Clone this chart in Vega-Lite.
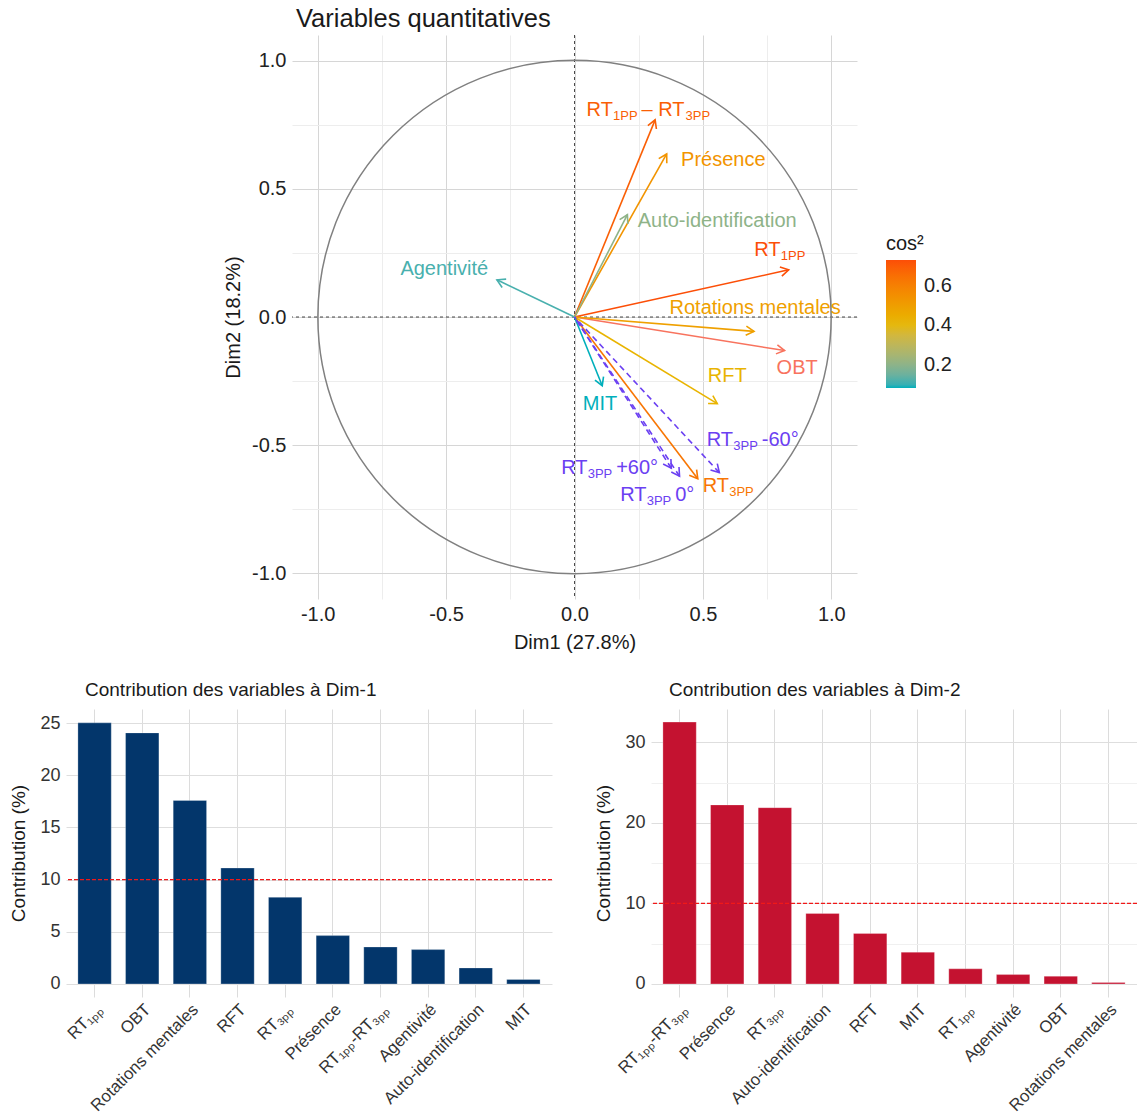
{
  "$schema": "https://vega.github.io/schema/vega-lite/v6.json",
  "padding": {"left": 9, "top": 7, "right": 0, "bottom": 0},
  "config": {
    "font": "Liberation Sans",
    "view": {"stroke": null},
    "axis": {"domain": false, "ticks": false, "labelColor": "#222222", "titleColor": "#1a1a1a", "titleFontWeight": "normal", "labelOverlap": false, "labelFlush": false},
    "title": {"fontWeight": "normal", "color": "#1a1a1a"}
  },
  "datasets": {
    "origin": [{"x": 0, "y": 0}],
    "vars": [
      {"name": "RT1PP", "x": 0.834, "y": 0.184, "cos2": 0.730, "p1": "RT", "s1": "1PP", "p2": null, "s2": null, "lx": 0.700, "ly": 0.239},
      {"name": "OBT", "x": 0.818, "y": -0.131, "cos2": 0.686, "p1": "OBT", "s1": null, "p2": null, "s2": null, "lx": 0.787, "ly": -0.223},
      {"name": "Rotations mentales", "x": 0.699, "y": -0.056, "cos2": 0.492, "p1": "Rotations mentales", "s1": null, "p2": null, "s2": null, "lx": 0.370, "ly": 0.012},
      {"name": "RFT", "x": 0.556, "y": -0.338, "cos2": 0.423, "p1": "RFT", "s1": null, "p2": null, "s2": null, "lx": 0.519, "ly": -0.253},
      {"name": "RT3PP", "x": 0.480, "y": -0.631, "cos2": 0.630, "p1": "RT", "s1": "3PP", "p2": null, "s2": null, "lx": 0.499, "ly": -0.682},
      {"name": "Présence", "x": 0.359, "y": 0.636, "cos2": 0.534, "p1": "Présence", "s1": null, "p2": null, "s2": null, "lx": 0.415, "ly": 0.588},
      {"name": "RT1PP-RT3PP", "x": 0.314, "y": 0.769, "cos2": 0.690, "p1": "RT", "s1": "1PP", "p2": "– RT", "s2": "3PP", "lx": 0.047, "ly": 0.785},
      {"name": "Agentivité", "x": -0.302, "y": 0.145, "cos2": 0.113, "p1": "Agentivité", "s1": null, "p2": null, "s2": null, "lx": -0.678, "ly": 0.165},
      {"name": "Auto-identification", "x": 0.206, "y": 0.399, "cos2": 0.202, "p1": "Auto-identification", "s1": null, "p2": null, "s2": null, "lx": 0.246, "ly": 0.353},
      {"name": "MIT", "x": 0.108, "y": -0.268, "cos2": 0.083, "p1": "MIT", "s1": null, "p2": null, "s2": null, "lx": 0.032, "ly": -0.362}
    ],
    "supp": [
      {"name": "RT3PP -60°", "x": 0.564, "y": -0.607, "p1": "RT", "s1": "3PP", "p2": "-60°", "lx": 0.515, "ly": -0.503},
      {"name": "RT3PP +60°", "x": 0.377, "y": -0.590, "p1": "RT", "s1": "3PP", "p2": "+60°", "lx": -0.052, "ly": -0.613},
      {"name": "RT3PP 0°", "x": 0.409, "y": -0.621, "p1": "RT", "s1": "3PP", "p2": "0°", "lx": 0.178, "ly": -0.718}
    ],
    "dim1": [
      {"var": "RT₁ₚₚ", "contrib": 25.03},
      {"var": "OBT", "contrib": 24.07},
      {"var": "Rotations mentales", "contrib": 17.59},
      {"var": "RFT", "contrib": 11.11},
      {"var": "RT₃ₚₚ", "contrib": 8.30},
      {"var": "Présence", "contrib": 4.63},
      {"var": "RT₁ₚₚ-RT₃ₚₚ", "contrib": 3.54},
      {"var": "Agentivité", "contrib": 3.29},
      {"var": "Auto-identification", "contrib": 1.53},
      {"var": "MIT", "contrib": 0.42}
    ],
    "dim2": [
      {"var": "RT₁ₚₚ-RT₃ₚₚ", "contrib": 32.53},
      {"var": "Présence", "contrib": 22.24},
      {"var": "RT₃ₚₚ", "contrib": 21.9},
      {"var": "Auto-identification", "contrib": 8.75},
      {"var": "RFT", "contrib": 6.27},
      {"var": "MIT", "contrib": 3.94},
      {"var": "RT₁ₚₚ", "contrib": 1.87},
      {"var": "Agentivité", "contrib": 1.16},
      {"var": "OBT", "contrib": 0.95},
      {"var": "Rotations mentales", "contrib": 0.17}
    ]
  },
  "spacing": 29,
  "vconcat": [
    {
      "spacing": 0,
      "hconcat": [
        {"width": 157, "height": 10, "data": {"name": "origin"}, "mark": {"type": "point", "opacity": 0}, "encoding": {"x": {"field": "x", "type": "quantitative", "axis": null}, "y": {"field": "y", "type": "quantitative", "axis": null}}},
        {
          "width": 565,
          "height": 564,
          "title": {"text": "Variables quantitatives", "anchor": "start", "frame": "group", "fontSize": 25.5, "dx": 4, "offset": 2},
          "layer": [
            {
              "data": {"name": "origin"},
              "mark": {"type": "rule", "strokeDash": [3, 3], "strokeWidth": 0.8, "color": "#1a1a1a"},
              "encoding": {
                "x": {"field": "x", "type": "quantitative",
                  "scale": {"domain": [-1.1, 1.1], "nice": false, "zero": false},
                  "axis": {"title": "Dim1 (27.8%)", "titleFontSize": 20, "labelFontSize": 20, "labelPadding": 5, "titlePadding": 8,
                    "values": [-1, -0.75, -0.5, -0.25, 0, 0.25, 0.5, 0.75, 1],
                    "labelExpr": "abs(datum.value*2 - round(datum.value*2)) < 0.001 ? replace(format(datum.value, '.1f'), '−', '-') : ''",
                    "grid": true,
                    "gridColor": {"condition": {"test": "abs(datum.value*2 - round(datum.value*2)) > 0.001", "value": "#ededed"}, "value": "#d6d6d6"}}}
              }
            },
            {
              "data": {"name": "origin"},
              "mark": {"type": "rule", "strokeDash": [3, 3], "strokeWidth": 0.8, "color": "#1a1a1a"},
              "encoding": {
                "y": {"field": "y", "type": "quantitative",
                  "scale": {"domain": [-1.1, 1.1], "nice": false, "zero": false},
                  "axis": {"title": "Dim2 (18.2%)", "titleFontSize": 20, "labelFontSize": 20, "labelPadding": 6, "titlePadding": 8,
                    "values": [-1, -0.75, -0.5, -0.25, 0, 0.25, 0.5, 0.75, 1],
                    "labelExpr": "abs(datum.value*2 - round(datum.value*2)) < 0.001 ? replace(format(datum.value, '.1f'), '−', '-') : ''",
                    "grid": true,
                    "gridColor": {"condition": {"test": "abs(datum.value*2 - round(datum.value*2)) > 0.001", "value": "#ededed"}, "value": "#d6d6d6"}}}
              }
            },
            {
              "data": {"name": "origin"},
              "mark": {"type": "point", "shape": "circle", "size": 263477, "filled": false, "stroke": "#808080", "strokeWidth": 1.5, "opacity": 1},
              "encoding": {"x": {"field": "x", "type": "quantitative"}, "y": {"field": "y", "type": "quantitative"}}
            },
            {
              "data": {"name": "vars"},
              "mark": {"type": "rule", "strokeWidth": 1.6},
              "encoding": {
                "x": {"field": "x", "type": "quantitative"},
                "y": {"field": "y", "type": "quantitative"},
                "x2": {"datum": 0},
                "y2": {"datum": 0},
                "stroke": {"field": "cos2", "type": "quantitative", "title": "cos²",
                  "scale": {"range": ["#00AFBB", "#E7B800", "#FC4E07"], "interpolate": "lab"},
                  "condition": {"test": "datum.name === 'OBT'", "value": "#F8735E"},
                  "legend": {"type": "gradient", "orient": "none", "legendX": 820, "legendY": 199, "titleFontSize": 20, "labelFontSize": 20,
                    "gradientLength": 128, "gradientThickness": 30, "values": [0.2, 0.4, 0.6], "format": ".1f",
                    "labelOffset": 8, "titlePadding": 6, "gradientStrokeWidth": 0, "titleFontWeight": "normal",
                    "labelColor": "#222222", "titleColor": "#1a1a1a"}}
              }
            },
            {
              "data": {"name": "vars"},
              "mark": {"type": "point", "shape": "M-1,-0.577L0,0L-1,0.577", "size": 256, "filled": false, "strokeWidth": 1.6, "opacity": 1,
                "angle": {"expr": "atan2(-datum.y, datum.x) * 180 / PI"}},
              "encoding": {
                "x": {"field": "x", "type": "quantitative"},
                "y": {"field": "y", "type": "quantitative"},
                "stroke": {"field": "cos2", "type": "quantitative", "condition": {"test": "datum.name === 'OBT'", "value": "#F8735E"}}
              }
            },
            {
              "data": {"name": "supp"},
              "mark": {"type": "rule", "strokeWidth": 1.6, "strokeDash": [6, 4], "color": "#6B40F2"},
              "encoding": {
                "x": {"field": "x", "type": "quantitative"},
                "y": {"field": "y", "type": "quantitative"},
                "x2": {"datum": 0},
                "y2": {"datum": 0}
              }
            },
            {
              "data": {"name": "supp"},
              "mark": {"type": "point", "shape": "M-1,-0.577L0,0L-1,0.577", "size": 256, "filled": false, "strokeWidth": 1.6, "opacity": 1, "color": "#6B40F2",
                "angle": {"expr": "atan2(-datum.y, datum.x) * 180 / PI"}},
              "encoding": {"x": {"field": "x", "type": "quantitative"}, "y": {"field": "y", "type": "quantitative"}}
            },
            {
              "data": {"name": "vars"},
              "mark": {"type": "text", "align": "left", "baseline": "alphabetic", "fontSize": 20},
              "encoding": {
                "x": {"field": "lx", "type": "quantitative"}, "y": {"field": "ly", "type": "quantitative"},
                "text": {"field": "p1", "type": "nominal"},
                "fill": {"field": "cos2", "type": "quantitative", "legend": null,
                  "scale": {"range": ["#00AFBB", "#E7B800", "#FC4E07"], "interpolate": "lab"},
                  "condition": {"test": "datum.name === 'OBT'", "value": "#F8735E"}}
              }
            },
            {
              "data": {"name": "vars"},
              "transform": [{"filter": "datum.s1 != null"}],
              "mark": {"type": "text", "align": "left", "baseline": "alphabetic", "fontSize": 13, "dx": 26.5, "dy": 4},
              "encoding": {
                "x": {"field": "lx", "type": "quantitative"}, "y": {"field": "ly", "type": "quantitative"},
                "text": {"field": "s1", "type": "nominal"},
                "fill": {"field": "cos2", "type": "quantitative", "legend": null}
              }
            },
            {
              "data": {"name": "vars"},
              "transform": [{"filter": "datum.p2 != null"}],
              "mark": {"type": "text", "align": "left", "baseline": "alphabetic", "fontSize": 20, "dx": 55},
              "encoding": {
                "x": {"field": "lx", "type": "quantitative"}, "y": {"field": "ly", "type": "quantitative"},
                "text": {"field": "p2", "type": "nominal"},
                "fill": {"field": "cos2", "type": "quantitative", "legend": null}
              }
            },
            {
              "data": {"name": "vars"},
              "transform": [{"filter": "datum.s2 != null"}],
              "mark": {"type": "text", "align": "left", "baseline": "alphabetic", "fontSize": 13, "dx": 99, "dy": 4},
              "encoding": {
                "x": {"field": "lx", "type": "quantitative"}, "y": {"field": "ly", "type": "quantitative"},
                "text": {"field": "s2", "type": "nominal"},
                "fill": {"field": "cos2", "type": "quantitative", "legend": null}
              }
            },
            {
              "data": {"name": "supp"},
              "mark": {"type": "text", "align": "left", "baseline": "alphabetic", "fontSize": 20, "color": "#6B40F2"},
              "encoding": {"x": {"field": "lx", "type": "quantitative"}, "y": {"field": "ly", "type": "quantitative"}, "text": {"field": "p1", "type": "nominal"}}
            },
            {
              "data": {"name": "supp"},
              "mark": {"type": "text", "align": "left", "baseline": "alphabetic", "fontSize": 13, "dx": 26.5, "dy": 4, "color": "#6B40F2"},
              "encoding": {"x": {"field": "lx", "type": "quantitative"}, "y": {"field": "ly", "type": "quantitative"}, "text": {"field": "s1", "type": "nominal"}}
            },
            {
              "data": {"name": "supp"},
              "mark": {"type": "text", "align": "left", "baseline": "alphabetic", "fontSize": 20, "dx": 55, "color": "#6B40F2"},
              "encoding": {"x": {"field": "lx", "type": "quantitative"}, "y": {"field": "ly", "type": "quantitative"}, "text": {"field": "p2", "type": "nominal"}}
            }
          ]
        }
      ]
    },
    {
      "spacing": 41,
      "hconcat": [
        {
          "width": 486,
          "height": 288,
          "title": {"text": "Contribution des variables à Dim-1", "anchor": "start", "frame": "group", "fontSize": 19, "dx": 19, "offset": 9},
          "layer": [
            {
              "data": {"name": "dim1"},
              "mark": {"type": "bar", "color": "#03366B", "stroke": "#ffffff", "strokeWidth": 0.5, "strokeOpacity": 0.5},
              "encoding": {
                "x": {"field": "var", "type": "nominal",
                  "sort": ["RT₁ₚₚ", "OBT", "Rotations mentales", "RFT", "RT₃ₚₚ", "Présence", "RT₁ₚₚ-RT₃ₚₚ", "Agentivité", "Auto-identification", "MIT"],
                  "scale": {"paddingInner": 0.3, "paddingOuter": 0.25},
                  "axis": {"title": null, "labelAngle": -45, "labelAlign": "right", "labelBaseline": "top", "labelFontSize": 16.8, "labelPadding": 4,
                    "grid": true, "gridColor": "#dcdcdc", "bandPosition": 0.5, "labelLimit": 0, "labelColor": "#333333"}},
                "y": {"field": "contrib", "type": "quantitative",
                  "scale": {"domain": [-1.255, 26.36], "nice": false, "zero": false},
                  "axis": {"title": "Contribution (%)", "titleFontSize": 19, "titlePadding": 11, "labelFontSize": 18, "labelPadding": 6, "labelColor": "#333333",
                    "values": [0, 2.5, 5, 7.5, 10, 12.5, 15, 17.5, 20, 22.5, 25],
                    "labelExpr": "datum.value % 5 === 0 ? format(datum.value, 'd') : ''",
                    "grid": true,
                    "gridColor": {"condition": {"test": "datum.value % 5 !== 0", "value": "#f0f0f0"}, "value": "#dedede"}}}
              }
            },
            {
              "data": {"values": [{"t": 10}]},
              "mark": {"type": "rule", "color": "#F01818", "strokeDash": [4, 2], "strokeWidth": 1.2},
              "encoding": {"y": {"field": "t", "type": "quantitative"}}
            }
          ]
        },
        {
          "width": 486,
          "height": 288,
          "title": {"text": "Contribution des variables à Dim-2", "anchor": "start", "frame": "group", "fontSize": 19, "dx": 18, "offset": 9},
          "layer": [
            {
              "data": {"name": "dim2"},
              "mark": {"type": "bar", "color": "#C41230", "stroke": "#ffffff", "strokeWidth": 0.5, "strokeOpacity": 0.5},
              "encoding": {
                "x": {"field": "var", "type": "nominal",
                  "sort": ["RT₁ₚₚ-RT₃ₚₚ", "Présence", "RT₃ₚₚ", "Auto-identification", "RFT", "MIT", "RT₁ₚₚ", "Agentivité", "OBT", "Rotations mentales"],
                  "scale": {"paddingInner": 0.3, "paddingOuter": 0.25},
                  "axis": {"title": null, "labelAngle": -45, "labelAlign": "right", "labelBaseline": "top", "labelFontSize": 16.8, "labelPadding": 4,
                    "grid": true, "gridColor": "#dcdcdc", "bandPosition": 0.5, "labelLimit": 0, "labelColor": "#333333"}},
                "y": {"field": "contrib", "type": "quantitative",
                  "scale": {"domain": [-1.627, 34.16], "nice": false, "zero": false},
                  "axis": {"title": "Contribution (%)", "titleFontSize": 19, "titlePadding": 11, "labelFontSize": 18, "labelPadding": 6, "labelColor": "#333333",
                    "values": [0, 5, 10, 15, 20, 25, 30],
                    "labelExpr": "datum.value % 10 === 0 ? format(datum.value, 'd') : ''",
                    "grid": true,
                    "gridColor": {"condition": {"test": "datum.value % 10 !== 0", "value": "#f0f0f0"}, "value": "#dedede"}}}
              }
            },
            {
              "data": {"values": [{"t": 10}]},
              "mark": {"type": "rule", "color": "#F01818", "strokeDash": [4, 2], "strokeWidth": 1.2},
              "encoding": {"y": {"field": "t", "type": "quantitative"}}
            }
          ]
        }
      ]
    }
  ]
}
